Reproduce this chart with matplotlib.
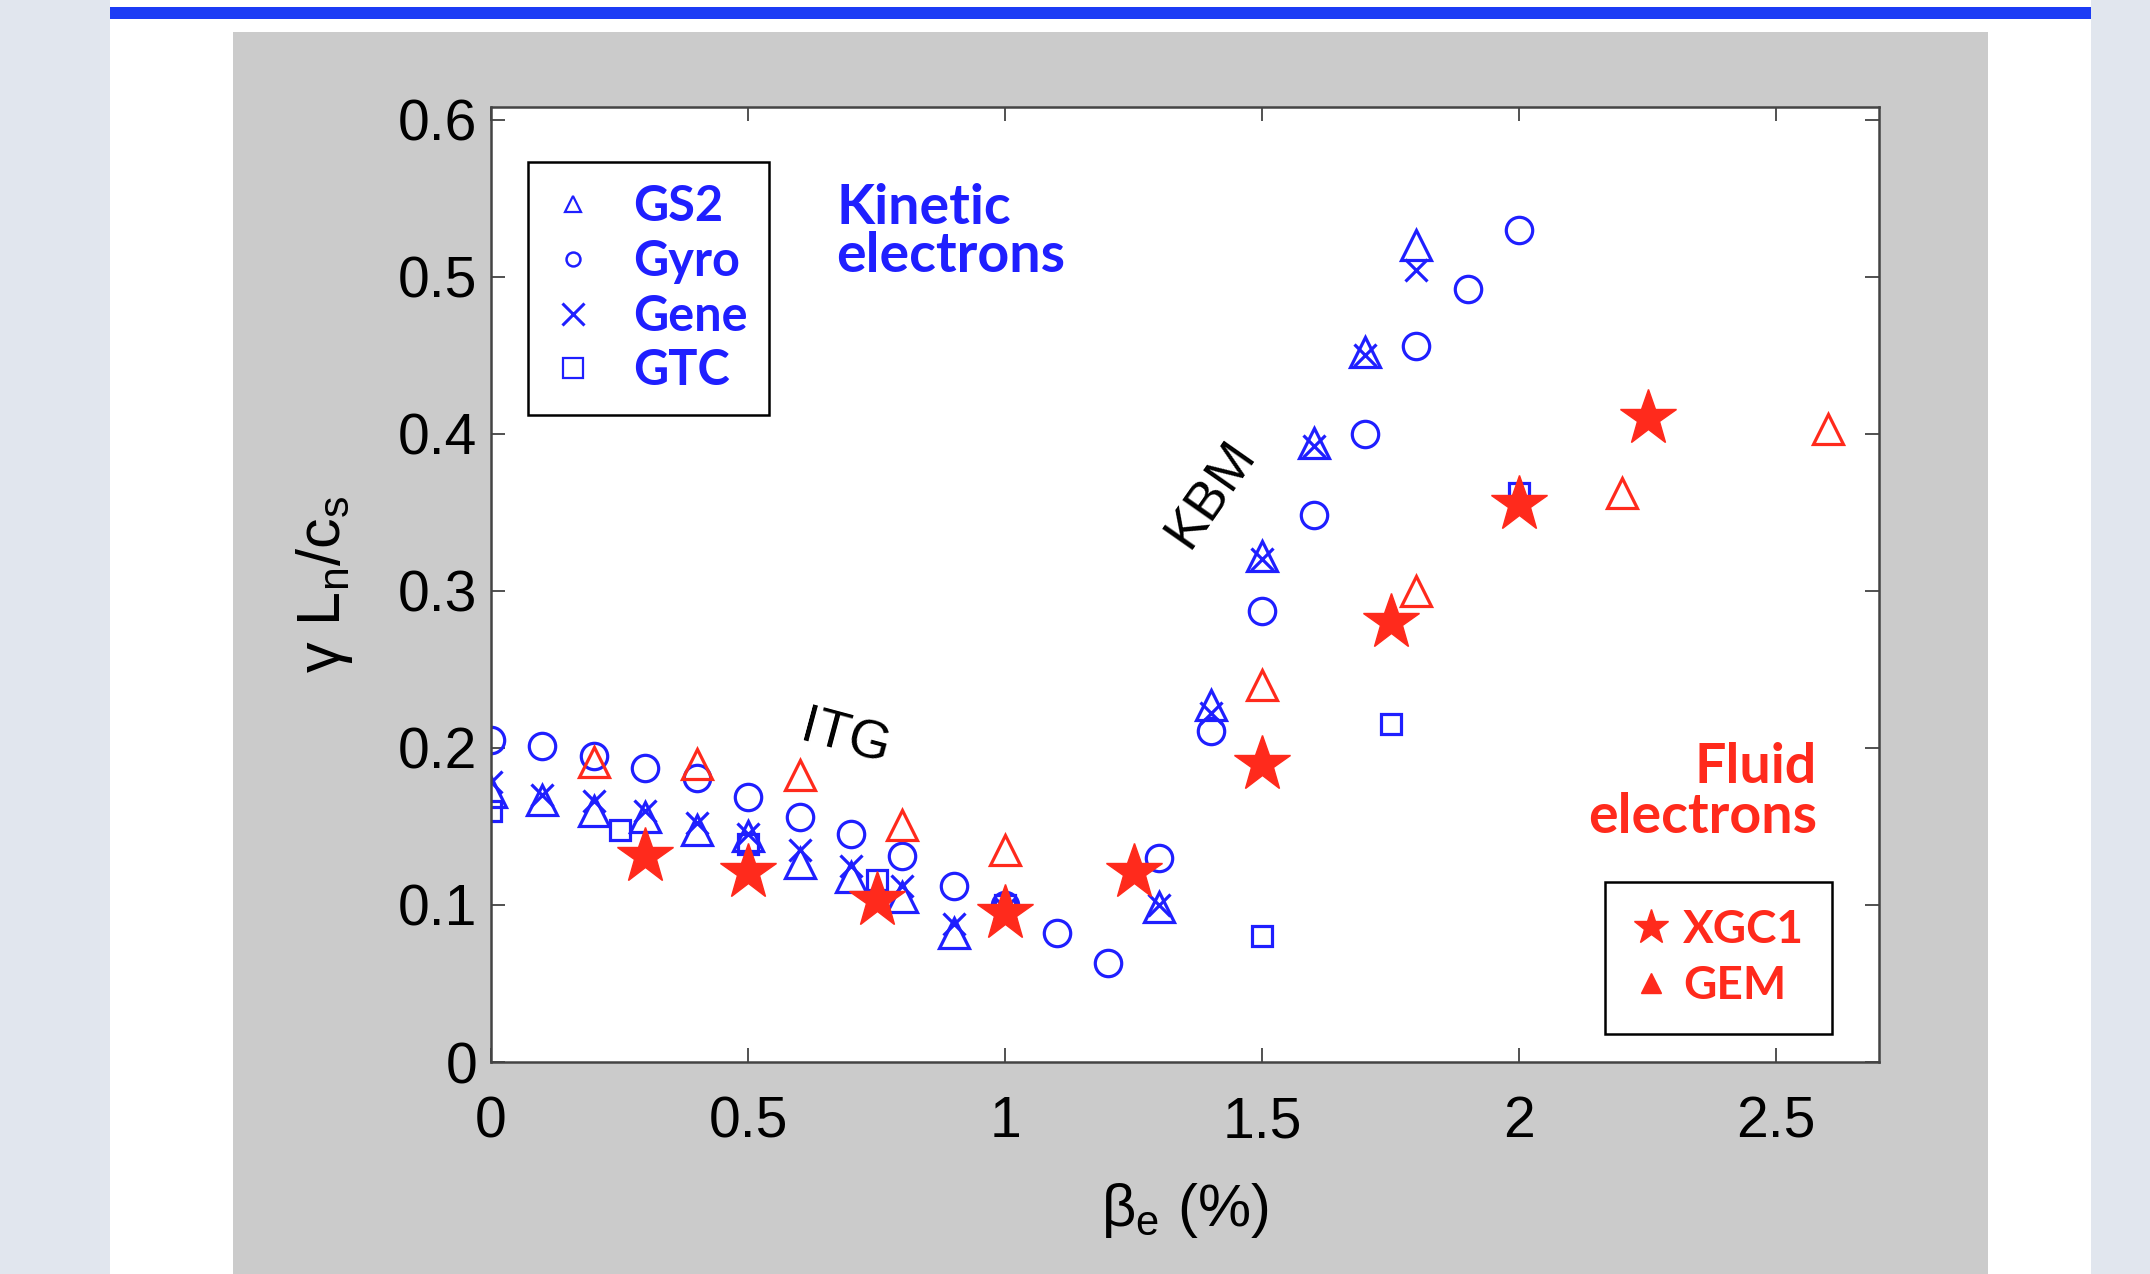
import matplotlib.pyplot as plt
from matplotlib.lines import Line2D
from matplotlib.patches import Rectangle

# GS2 - open blue triangles
gs2_beta = [0, 0.1, 0.2, 0.3, 0.4, 0.5, 0.6, 0.7, 0.8, 0.9, 1.3, 1.4, 1.5, 1.6, 1.7, 1.8]
gs2_gamma = [0.172, 0.167, 0.160, 0.156, 0.148, 0.144, 0.127, 0.118, 0.105, 0.082,
             0.099, 0.227, 0.322, 0.394, 0.452, 0.520]

# Gyro - open blue circles
gyro_beta = [0, 0.1, 0.2, 0.3, 0.4, 0.5, 0.6, 0.7, 0.8, 0.9, 1.0, 1.1, 1.2, 1.3,
             1.4, 1.5, 1.6, 1.7, 1.8, 1.9, 2.0]
gyro_gamma = [0.205, 0.201, 0.195, 0.187, 0.181, 0.169, 0.156, 0.145, 0.131, 0.112,
              0.100, 0.082, 0.063, 0.130, 0.211, 0.287, 0.348, 0.400, 0.456, 0.492, 0.530]

# Gene - blue crosses
gene_beta = [0, 0.1, 0.2, 0.3, 0.4, 0.5, 0.6, 0.7, 0.8, 0.9, 1.0, 1.3, 1.4, 1.5, 1.6, 1.7, 1.8]
gene_gamma = [0.178, 0.170, 0.166, 0.160, 0.152, 0.145, 0.135, 0.125, 0.112, 0.088,
              0.098, 0.100, 0.222, 0.320, 0.392, 0.450, 0.504]

# GTC - open blue squares
gtc_beta = [0, 0.25, 0.5, 0.75, 1.0, 1.5, 1.75, 2.0]
gtc_gamma = [0.160, 0.148, 0.139, 0.116, 0.100, 0.080, 0.215, 0.362]

# XGC1 - filled red stars (fluid electrons)
xgc_beta = [0.3, 0.5, 0.75, 1.0, 1.25, 1.5, 1.75, 2.0, 2.25]
xgc_gamma = [0.131, 0.121, 0.103, 0.095, 0.121, 0.190, 0.280, 0.355, 0.410]

# GEM - open red triangles (fluid electrons)
gem_beta = [0.2, 0.4, 0.6, 0.8, 1.0, 1.5, 1.8, 2.2, 2.6]
gem_gamma = [0.191, 0.190, 0.183, 0.151, 0.135, 0.240, 0.300, 0.362, 0.403]

x_ticks = [0, 0.5, 1, 1.5, 2, 2.5]
y_ticks = [0, 0.1, 0.2, 0.3, 0.4, 0.5, 0.6]

BLUE = '#1f1fff'
RED = '#ff2a1c'
NUM_FONT = ['Liberation Sans', 'DejaVu Sans']
BOLD_FONT = ['Lato', 'DejaVu Sans']

plt.rcParams['font.family'] = NUM_FONT
plt.rcParams['mathtext.fontset'] = 'custom'
plt.rcParams['mathtext.rm'] = 'Liberation Sans'
plt.rcParams['mathtext.it'] = 'Liberation Sans'

fig = plt.figure(figsize=(21.5, 12.74), dpi=100)
fig.patch.set_facecolor('#e1e6ee')

# slide background: white panel, blue bar, grey figure box
fig.patches.append(Rectangle((0.0512, 0), 0.9214, 1, transform=fig.transFigure,
                             facecolor='white', edgecolor='none', zorder=-3))
fig.patches.append(Rectangle((0.0512, 0.9851), 0.9214, 0.0094, transform=fig.transFigure,
                             facecolor='#1c3cf5', edgecolor='none', zorder=-2))
fig.patches.append(Rectangle((0.1084, 0), 0.8163, 0.9749, transform=fig.transFigure,
                             facecolor='#cbcbcb', edgecolor='none', zorder=-2))

ax = fig.add_axes([0.2284, 0.1664, 0.6456, 0.7496])
ax.set_facecolor('white')

ax.plot(gyro_beta, gyro_gamma, 'o', ms=19, mfc='none', mec=BLUE, mew=2.3, ls='none')
ax.plot(gs2_beta, gs2_gamma, '^', ms=21, mfc='none', mec=BLUE, mew=2.3, ls='none')
ax.plot(gene_beta, gene_gamma, 'x', ms=16, mec=BLUE, mew=2.3, ls='none')
ax.plot(gtc_beta, gtc_gamma, 's', ms=15, mfc='none', mec=BLUE, mew=2.3, ls='none')
ax.plot(gem_beta, gem_gamma, '^', ms=21, mfc='none', mec=RED, mew=2.3, ls='none')
ax.plot(xgc_beta, xgc_gamma, '*', ms=42, mfc=RED, mec=RED, mew=1, ls='none')

ax.set_xlim(0, 2.7)
ax.set_ylim(0, 0.608)
ax.set_xticks(x_ticks)
ax.set_xticklabels(['0', '0.5', '1', '1.5', '2', '2.5'])
ax.set_yticks(y_ticks)
ax.set_yticklabels(['0', '0.1', '0.2', '0.3', '0.4', '0.5', '0.6'])
ax.tick_params(direction='in', length=10, width=1.2, top=True, right=True,
               labelsize=41, color='#333333')
ax.tick_params(axis='x', pad=24)
ax.tick_params(axis='y', pad=10)
for sp in ax.spines.values():
    sp.set_linewidth(1.8)
    sp.set_color('#444444')

ax.set_xlabel(r'$\mathregular{\beta_e}$ (%)', fontsize=43)
ax.xaxis.set_label_coords(0.5, -0.125)
ax.set_ylabel(r'$\mathregular{\gamma\ L_n/c_s}$', fontsize=44)
ax.yaxis.set_label_coords(-0.098, 0.5)

ax.text(0.69, 0.206, 'ITG', fontsize=39, rotation=-15, ha='center', va='center')
ax.text(1.40, 0.362, 'KBM', fontsize=39, rotation=55, ha='center', va='center')

ax.text(0.2486, 0.92, 'Kinetic\nelectrons', transform=ax.transAxes, color=BLUE,
        fontsize=40, fontweight='bold', family=BOLD_FONT, ha='left', va='top',
        linespacing=0.95)
ax.text(0.955, 0.335, 'Fluid\nelectrons', transform=ax.transAxes, color=RED,
        fontsize=40, fontweight='bold', family=BOLD_FONT, ha='right', va='top',
        linespacing=1.0)

kin_handles = [
    Line2D([], [], marker='^', ls='none', ms=12, mfc='none', mec=BLUE, mew=1.6),
    Line2D([], [], marker='o', ls='none', ms=10, mfc='none', mec=BLUE, mew=1.8),
    Line2D([], [], marker='x', ls='none', ms=16, mec=BLUE, mew=2.2),
    Line2D([], [], marker='s', ls='none', ms=14, mfc='none', mec=BLUE, mew=1.6),
]
leg1 = ax.legend(kin_handles, ['GS2', 'Gyro', 'Gene', 'GTC'], loc='upper left',
                 bbox_to_anchor=(0.0267, 0.942), borderaxespad=0, borderpad=0.45,
                 handlelength=0.95, handletextpad=0.75, labelspacing=0.2,
                 fancybox=False, edgecolor='black', framealpha=1,
                 prop={'family': BOLD_FONT, 'weight': 'bold', 'size': 35},
                 labelcolor=BLUE)
leg1.get_frame().set_linewidth(1.8)
ax.add_artist(leg1)

fluid_handles = [
    Line2D([], [], marker='*', ls='none', ms=26, mfc=RED, mec=RED, mew=1),
    Line2D([], [], marker='^', ls='none', ms=14, mfc=RED, mec=RED),
]
leg2 = ax.legend(fluid_handles, ['XGC1', 'GEM'], loc='lower right',
                 bbox_to_anchor=(0.966, 0.029), borderaxespad=0, borderpad=0.6,
                 handlelength=0.8, handletextpad=0.3, labelspacing=0.3,
                 fancybox=False, edgecolor='black', framealpha=1,
                 prop={'family': BOLD_FONT, 'weight': 'bold', 'size': 33},
                 labelcolor=RED)
leg2.get_frame().set_linewidth(1.8)

fig.savefig('out.png', dpi=100, facecolor=fig.get_facecolor())
